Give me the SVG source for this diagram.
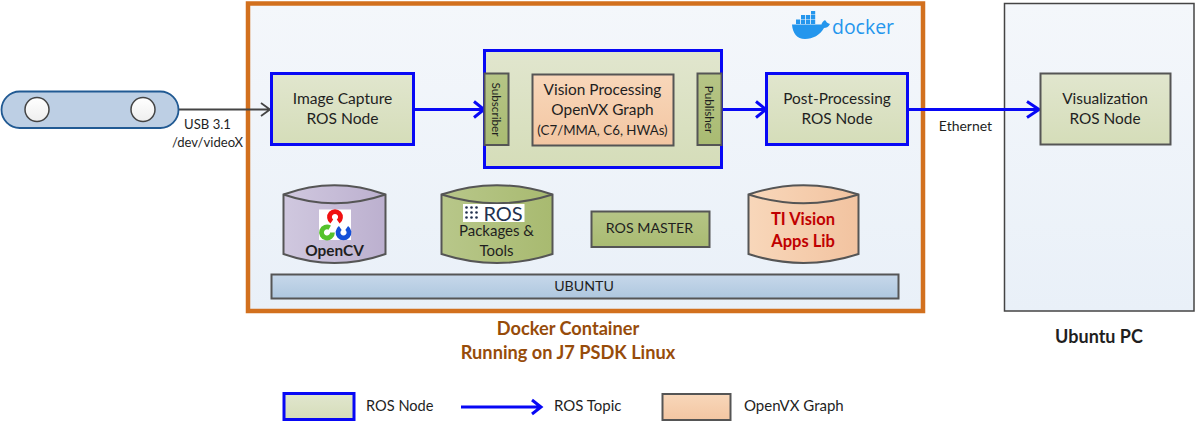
<svg xmlns="http://www.w3.org/2000/svg" width="1195" height="422" viewBox="0 0 1195 422">
<style>
text{font-family:"Lato","Liberation Sans",sans-serif;fill:#1f1f1f;text-anchor:middle;font-size:15.4px}
.s{font-size:13.1px}
.r{font-size:11.7px}
.lg{font-size:15px;text-anchor:start}
.b{font-weight:700}
.cap{font-size:18.200px;fill:#974c0a}
.ti{font-size:16.500px;fill:#c00000}
.g{stroke:#555;stroke-width:2}
.ros{stroke:#0808f5;stroke-width:3}
.wire{fill:none;stroke:#0808f5;stroke-width:3}
.wire2{fill:none;stroke:#444;stroke-width:1.8}
</style>
<defs>
<linearGradient id="box" x1="0" y1="0" x2="0" y2="1"><stop offset="0" stop-color="#f4f7fb"/><stop offset="1" stop-color="#e9f0f8"/></linearGradient>
<linearGradient id="node" x1="0" y1="0" x2="0" y2="1"><stop offset="0" stop-color="#e1e6ce"/><stop offset="1" stop-color="#d5ddb9"/></linearGradient>
<linearGradient id="peach" x1="0" y1="0" x2="0" y2="1"><stop offset="0" stop-color="#f8d7ba"/><stop offset="1" stop-color="#f3c6a2"/></linearGradient>
<linearGradient id="peachH"><stop offset="0" stop-color="#f8d7ba"/><stop offset="1" stop-color="#f2c3a0"/></linearGradient>
<linearGradient id="olive" x1="0" y1="0" x2="0" y2="1"><stop offset="0" stop-color="#b6c586"/><stop offset="1" stop-color="#a9bb72"/></linearGradient>
<linearGradient id="oliveH"><stop offset="0" stop-color="#b8c78a"/><stop offset="1" stop-color="#a8ba70"/></linearGradient>
<linearGradient id="purple"><stop offset="0" stop-color="#d0c8df"/><stop offset="1" stop-color="#bcb0cf"/></linearGradient>
<linearGradient id="ub" x1="0" y1="0" x2="0" y2="1"><stop offset="0" stop-color="#c7d8ea"/><stop offset="1" stop-color="#aec7df"/></linearGradient>
<linearGradient id="lens" x1="0" y1="0" x2="0" y2="1"><stop offset="0" stop-color="#fff"/><stop offset="1" stop-color="#eee"/></linearGradient>
</defs>

<g id="docker-container"><rect x="248" y="3.5" width="675" height="307.5" fill="url(#box)" stroke="#d2701e" stroke-width="4.5"/></g>
<g id="ubuntu-pc"><rect x="1004.5" y="3.5" width="189.5" height="307.5" fill="url(#box)" stroke="#444" stroke-width="1.5"/></g>

<g id="docker-logo">
<path d="M792 24.500H821.500C822.500 21 824.500 20.500 825 20C826.500 22 827 23.200 830 24C828.500 27 826 28 824 28C820 35 813 39 805 39C797 39 792.500 33 792 24.500Z" fill="#2496ed"/>
<path fill="#2496ed" d="M796 19.500h4.200v4.500h-4.200zM801 19.500h4.200v4.500h-4.200zM806 19.500h4.200v4.500h-4.200zM811 19.500h4.200v4.500h-4.200zM801 15h4.200v4h-4.200zM806 15h4.200v4h-4.200zM811 15h4.200v4h-4.200zM811 11h4.200v3.500h-4.200z"/>
<text x="832" y="34" style="text-anchor:start;font-family:'Open Sans',sans-serif;font-size:20px;fill:#2496ed" textLength="62" lengthAdjust="spacingAndGlyphs">docker</text>
</g>

<g id="connectors">
<path class="wire2" d="M179 109.500H270M261 103l9 6.500-9 6.500"/>
<path class="wire" d="M414 109.500H483M474 101.500l10 8-10 8"/>
<path class="wire" d="M721 109.500H765M756 101.500l10 8-10 8"/>
<path class="wire" d="M908 109.500H1039M1027 101.500l12 8-12 8"/>
</g>

<g id="camera">
<rect x="1.500" y="91.500" width="177" height="36.500" rx="18.200" fill="#bdcfe4" stroke="#215a93" stroke-width="1.800"/>
<circle cx="37" cy="109.500" r="12" fill="url(#lens)" stroke="#444" stroke-width="1.500"/>
<circle cx="143" cy="109.500" r="12" fill="url(#lens)" stroke="#444" stroke-width="1.500"/>
</g>
<text x="207.500" y="129" class="s">USB 3.1</text>
<text x="207.500" y="147" class="s">/dev/videoX</text>

<g id="image-capture"><rect x="271.500" y="73.500" width="142" height="71" fill="url(#node)" class="ros"/>
<text x="342.500" y="103.500" style="font-size:15.600px">Image Capture</text><text x="342.500" y="123.500" style="font-size:15.600px">ROS Node</text></g>

<g id="vision-processing">
<rect x="484.500" y="50.500" width="237" height="117" fill="url(#node)" class="ros"/>
<rect x="484.500" y="73.500" width="24" height="71.500" fill="url(#olive)" class="g"/>
<rect x="697.500" y="73.500" width="24" height="71.500" fill="url(#olive)" class="g"/>
<text transform="translate(492 109.500) rotate(90)" class="r">Subscriber</text>
<text transform="translate(705 109.500) rotate(90)" class="r">Publisher</text>
<rect x="532.500" y="74.500" width="141" height="71" fill="url(#peach)" class="g"/>
<text x="602.500" y="95">Vision Processing</text>
<text x="602.500" y="115">OpenVX Graph</text>
<text x="602.500" y="135" style="font-size:13.300px">(C7/MMA, C6, HWAs)</text>
</g>

<g id="post-processing"><rect x="766.500" y="73.500" width="141" height="71" fill="url(#node)" class="ros"/>
<text x="837" y="103.500">Post-Processing</text><text x="837" y="123.500">ROS Node</text></g>

<g id="visualization"><rect x="1040.500" y="73.500" width="130" height="71" fill="url(#node)" class="g"/>
<text x="1105" y="103.500">Visualization</text><text x="1105" y="123.500">ROS Node</text></g>

<text x="965.500" y="131" style="font-size:14px">Ethernet</text>

<g id="opencv">
<path d="M283.500 194.500Q334.500 176 385.500 194.500V254Q334.500 272 283.500 254Z" fill="url(#purple)" class="g"/>
<path d="M283.500 194.500Q334.500 212 385.500 194.500" fill="none" class="g"/>
<rect x="319" y="209.500" width="32" height="30.500" fill="#fff"/>
<path d="M331.800 221.500A5.500 5.500 0 1 1 338.200 221.500" fill="none" stroke="#f01010" stroke-width="4.800"/>
<path d="M329.750 227.700A5.500 5.500 0 1 0 332.500 232.500" fill="none" stroke="#55c22c" stroke-width="4.800"/>
<path d="M340.300 228A5.500 5.500 0 1 0 346.700 228" fill="none" stroke="#1450d8" stroke-width="4.800"/>
<text x="334.500" y="256" class="b">OpenCV</text>
</g>

<g id="ros-packages">
<path d="M441.500 194.500Q497 176 552.500 194.500V254Q497 272 441.500 254Z" fill="url(#oliveH)" class="g"/>
<path d="M441.500 194.500Q497 212 552.500 194.500" fill="none" class="g"/>
<rect x="463" y="204" width="61.500" height="18" fill="#fff"/>
<g fill="#22314e">
<circle cx="466.500" cy="207.500" r="1.300"/><circle cx="471.500" cy="207.500" r="1.300"/><circle cx="476.500" cy="207.500" r="1.300"/>
<circle cx="466.500" cy="212.500" r="1.300"/><circle cx="471.500" cy="212.500" r="1.300"/><circle cx="476.500" cy="212.500" r="1.300"/>
<circle cx="466.500" cy="217.500" r="1.300"/><circle cx="471.500" cy="217.500" r="1.300"/><circle cx="476.500" cy="217.500" r="1.300"/>
</g>
<text x="503" y="220.500" style="font-size:20px;fill:#22314e">ROS</text>
<text x="496.500" y="236" style="font-size:15px">Packages &amp;</text>
<text x="496.500" y="256" style="font-size:15px">Tools</text>
</g>

<g id="ros-master"><rect x="591.500" y="211.500" width="118" height="35.500" fill="url(#olive)" class="g"/>
<text x="649.500" y="233" style="font-size:14.200px">ROS MASTER</text></g>

<g id="ti-vision">
<path d="M748.500 194.500Q803.500 176 858.500 194.500V254Q803.500 272 748.500 254Z" fill="url(#peachH)" class="g"/>
<path d="M748.500 194.500Q803.500 212 858.500 194.500" fill="none" class="g"/>
<text x="803" y="225" class="b ti">TI Vision</text>
<text x="803" y="247" class="b ti">Apps Lib</text>
</g>

<g id="ubuntu"><rect x="271.500" y="274.500" width="627" height="24" fill="url(#ub)" class="g"/>
<text x="584" y="291" style="font-size:14.200px">UBUNTU</text></g>

<text x="568" y="335" class="b cap">Docker Container</text>
<text x="568" y="359" class="b cap">Running on J7 PSDK Linux</text>
<text x="1099" y="343" class="b" style="font-size:18px">Ubuntu PC</text>

<g id="legend">
<rect x="284" y="393.500" width="70" height="26" fill="url(#node)" class="ros"/>
<text x="366" y="411" class="lg" style="font-size:14.600px">ROS Node</text>
<path class="wire" d="M461 407H540M532 400l9 7-9 7"/>
<text x="554" y="411" class="lg">ROS Topic</text>
<rect x="662.500" y="394" width="68" height="26" fill="url(#peach)" class="g"/>
<text x="744" y="411" class="lg">OpenVX Graph</text>
</g>
</svg>
